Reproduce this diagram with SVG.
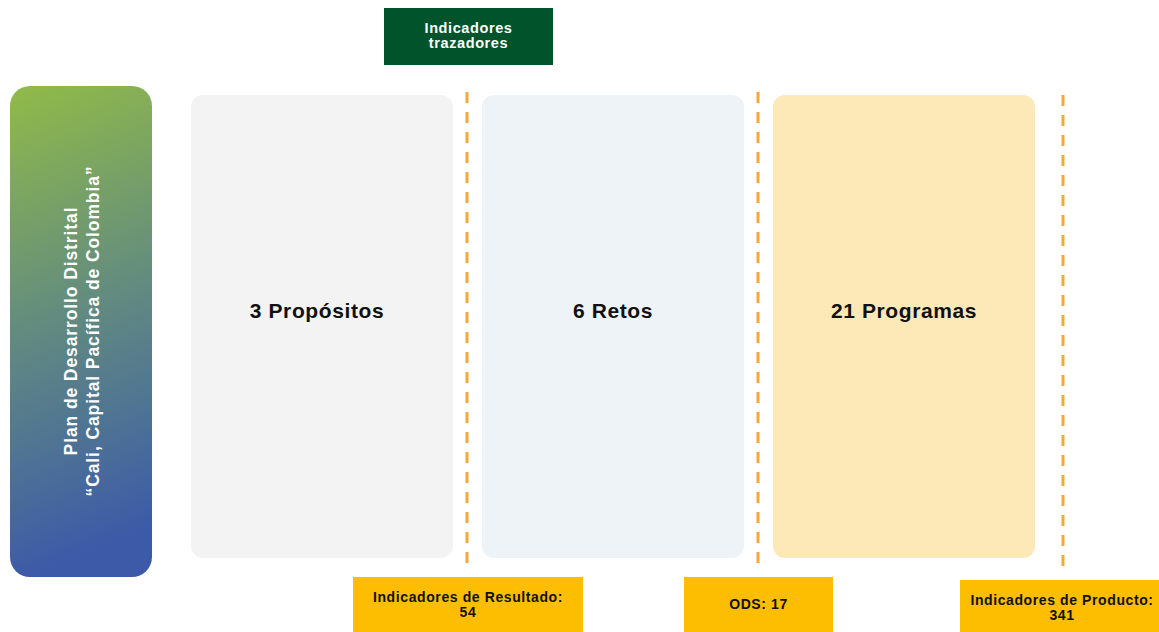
<svg xmlns="http://www.w3.org/2000/svg" width="1159" height="632" viewBox="0 0 1159 632">
<defs>
<linearGradient id="g1" x1="0" y1="0" x2="0.12" y2="1">
<stop offset="0" stop-color="#91bb48"/>
<stop offset="0.45" stop-color="#67907a"/>
<stop offset="0.75" stop-color="#4f7493"/>
<stop offset="1" stop-color="#3c5aa7"/>
</linearGradient>
<style>
.lbl{font-family:"Liberation Sans","Open Sans",Arial,sans-serif;font-weight:bold;text-anchor:middle}
.big{font-size:21px;letter-spacing:0.6px;fill:#111}
.sm{font-size:14px;letter-spacing:0.6px;fill:#111}
.dash{stroke:#f7a73c;stroke-width:3;stroke-dasharray:11 9;fill:none}
.y{fill:#fdbd00}
</style>
</defs>
<rect width="1159" height="632" fill="#fff"/>
<g id="plan">
<rect x="10" y="86" width="142" height="491" rx="20" fill="url(#g1)"/>
<text class="lbl" font-size="17.5" letter-spacing="0.9" fill="#fff" transform="translate(77 331) rotate(-90)"><tspan x="0" y="0">Plan de Desarrollo Distrital</tspan><tspan x="0" y="22">“Cali, Capital Pacífica de Colombia”</tspan></text>
</g>
<g id="trazadores">
<rect x="384" y="8" width="169" height="57" fill="#00532a"/>
<text class="lbl" font-size="14.5" letter-spacing="0.6" fill="#fff"><tspan x="468.5" y="33">Indicadores</tspan><tspan x="468.5" y="48">trazadores</tspan></text>
</g>
<g id="propositos">
<rect x="191" y="95" width="262" height="463" rx="12" fill="#f3f3f3"/>
<text class="lbl big" x="317" y="318">3 Propósitos</text>
</g>
<g id="retos">
<rect x="482" y="95" width="262" height="463" rx="12" fill="#eef3f8"/>
<text class="lbl big" x="613" y="318">6 Retos</text>
</g>
<g id="programas">
<rect x="773" y="95" width="262" height="463" rx="12" fill="#fde9b7"/>
<text class="lbl big" x="904" y="318">21 Programas</text>
</g>
<g id="connectors">
<line class="dash" x1="467" y1="92" x2="467" y2="572"/>
<line class="dash" x1="758" y1="92" x2="758" y2="572"/>
<line class="dash" x1="1063" y1="95" x2="1063" y2="575"/>
</g>
<g id="resultado">
<rect class="y" x="353" y="577" width="230" height="55"/>
<text class="lbl sm"><tspan x="468" y="602">Indicadores de Resultado:</tspan><tspan x="468" y="616.5">54</tspan></text>
</g>
<g id="ods">
<rect class="y" x="684" y="577" width="149" height="55"/>
<text class="lbl sm" x="758.5" y="609">ODS: 17</text>
</g>
<g id="producto">
<rect class="y" x="960" y="580" width="199" height="52"/>
<text class="lbl sm"><tspan x="1062" y="605">Indicadores de Producto:</tspan><tspan x="1062" y="619.5">341</tspan></text>
</g>
</svg>
